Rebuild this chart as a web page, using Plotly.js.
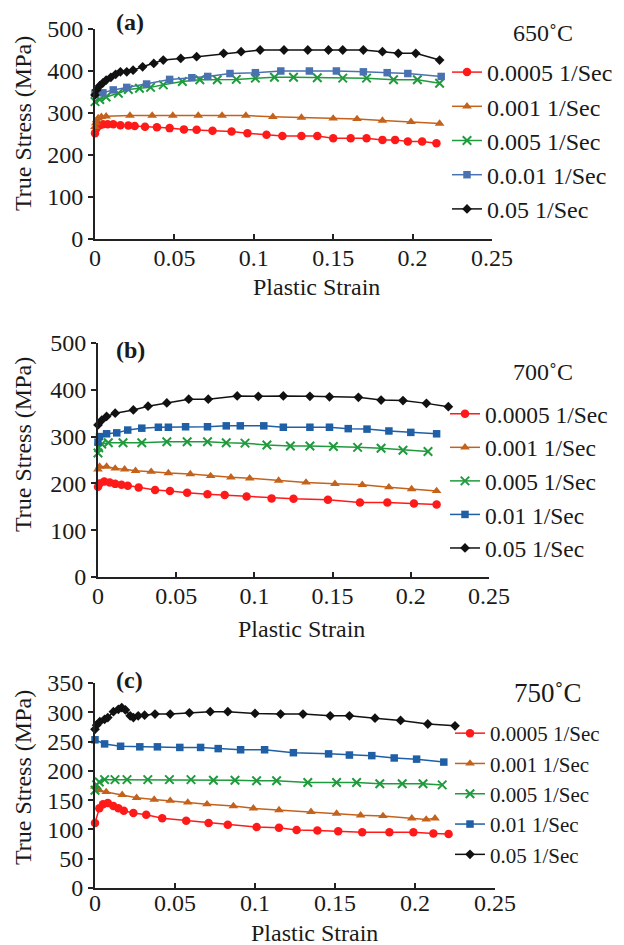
<!DOCTYPE html>
<html><head><meta charset="utf-8">
<script src="https://cdn.plot.ly/plotly-3.0.1.min.js"></script>
<style>body{margin:0;background:#fff}</style>
</head><body><div id="chart" style="width:624px;height:945px"></div>
<script>
// ---------- Panel (a) 650˚C ----------
const a_r00005_x = [0, 0.001, 0.003, 0.005, 0.008, 0.0115, 0.016, 0.021, 0.025, 0.0315, 0.039, 0.047, 0.056, 0.064, 0.074, 0.086, 0.096, 0.108, 0.118, 0.130, 0.140, 0.150, 0.161, 0.171, 0.181, 0.189, 0.197, 0.206, 0.215];
const a_r00005_y = [252, 264, 271, 273, 273, 273, 271, 270, 269, 267, 266, 264, 261, 260, 258, 256, 252, 248, 245, 245, 245, 240, 240, 240, 236, 236, 232, 232, 228];
const a_r0001_x = [0, 0.0005, 0.001, 0.002, 0.004, 0.007, 0.022, 0.036, 0.049, 0.065, 0.080, 0.095, 0.112, 0.130, 0.150, 0.165, 0.181, 0.199, 0.217];
const a_r0001_y = [267, 276, 283, 288, 291, 292, 294, 294, 294, 294, 294, 294, 291, 289, 287, 286, 282, 279, 275];
const a_r0005_x = [0, 0.003, 0.007, 0.0147, 0.021, 0.028, 0.035, 0.043, 0.055, 0.066, 0.077, 0.089, 0.101, 0.113, 0.125, 0.140, 0.156, 0.171, 0.188, 0.203, 0.217];
const a_r0005_y = [327, 332, 338, 347, 356, 359, 361, 367, 375, 379, 379, 380, 383, 385, 385, 384, 383, 383, 379, 379, 371];
const a_r001_x = [0, 0.005, 0.0115, 0.020, 0.0325, 0.047, 0.061, 0.071, 0.085, 0.101, 0.117, 0.135, 0.152, 0.169, 0.184, 0.197, 0.218];
const a_r001_y = [347, 348, 355, 361, 369, 380, 384, 387, 394, 396, 400, 400, 400, 398, 396, 394, 387];
const a_r005_x = [0, 0.001, 0.003, 0.005, 0.007, 0.010, 0.013, 0.016, 0.020, 0.024, 0.030, 0.037, 0.043, 0.054, 0.064, 0.081, 0.092, 0.104, 0.119, 0.134, 0.147, 0.156, 0.169, 0.181, 0.191, 0.202, 0.217];
const a_r005_y = [343, 355, 365, 372, 378, 385, 392, 398, 398, 402, 410, 418, 426, 430, 434, 442, 446, 450, 450, 450, 450, 450, 450, 446, 442, 442, 426];

// ---------- Panel (b) 700˚C ----------
const b_r00005_x = [0, 0.001, 0.004, 0.0075, 0.011, 0.015, 0.019, 0.026, 0.0365, 0.046, 0.057, 0.070, 0.081, 0.095, 0.111, 0.125, 0.147, 0.1675, 0.185, 0.202, 0.2165];
const b_r00005_y = [193, 200, 204, 202, 199, 197, 195, 191, 186, 184, 180, 177, 175, 172, 168, 167, 165, 159, 159, 157, 155];
const b_r0001_x = [0, 0.001, 0.0055, 0.011, 0.017, 0.024, 0.034, 0.045, 0.059, 0.072, 0.085, 0.097, 0.1155, 0.133, 0.1515, 0.169, 0.186, 0.2005, 0.2165];
const b_r0001_y = [230, 236, 236, 232, 230, 227, 225, 222, 220, 216, 213, 211, 206, 202, 199, 197, 192, 188, 184];
const b_r0005_x = [0, 0.0005, 0.0024, 0.0066, 0.016, 0.028, 0.044, 0.057, 0.070, 0.082, 0.094, 0.108, 0.123, 0.1355, 0.1505, 0.166, 0.181, 0.195, 0.211];
const b_r0005_y = [265, 276, 284, 287, 287, 287, 289, 289, 289, 287, 286, 282, 280, 280, 279, 277, 275, 271, 268];
const b_r001_x = [0, 0.001, 0.0055, 0.012, 0.019, 0.028, 0.0386, 0.045, 0.056, 0.070, 0.082, 0.091, 0.106, 0.1185, 0.1355, 0.148, 0.160, 0.172, 0.186, 0.200, 0.2165];
const b_r001_y = [288, 300, 306, 308, 314, 318, 320, 320, 321, 321, 323, 323, 323, 320, 320, 320, 317, 316, 312, 309, 306];
const b_r005_x = [0, 0.0024, 0.0055, 0.011, 0.0226, 0.032, 0.044, 0.058, 0.0705, 0.089, 0.1025, 0.1185, 0.1355, 0.148, 0.1665, 0.181, 0.195, 0.210, 0.224];
const b_r005_y = [325, 335, 343, 350, 357, 365, 372, 380, 380, 387, 386, 387, 386, 385, 384, 378, 377, 371, 364];

// ---------- Panel (c) 750˚C ----------
const c_r00005_x = [0, 0.0027, 0.005, 0.008, 0.0115, 0.0146, 0.018, 0.024, 0.032, 0.042, 0.057, 0.071, 0.083, 0.101, 0.115, 0.126, 0.139, 0.152, 0.167, 0.184, 0.199, 0.2115, 0.221];
const c_r00005_y = [111, 136, 143, 145, 140, 136, 132, 128, 125, 119, 115, 111, 108, 104, 103, 99, 98, 97, 95, 95, 95, 93, 92];
const c_r0001_x = [0, 0.0027, 0.007, 0.017, 0.026, 0.037, 0.047, 0.058, 0.070, 0.0865, 0.099, 0.115, 0.135, 0.151, 0.166, 0.180, 0.198, 0.207, 0.2125];
const c_r0001_y = [173, 167, 164, 159, 154, 151, 149, 146, 143, 140, 136, 133, 130, 127, 124, 123, 119, 117, 119];
const c_r0005_x = [0, 0.001, 0.0027, 0.006, 0.0125, 0.020, 0.033, 0.0465, 0.060, 0.074, 0.0875, 0.101, 0.1135, 0.133, 0.151, 0.1635, 0.178, 0.192, 0.205, 0.217];
const c_r0005_y = [167, 176, 181, 185, 185, 185, 185, 185, 185, 184, 184, 183, 183, 180, 180, 180, 178, 178, 178, 176];
const c_r001_x = [0, 0.006, 0.016, 0.028, 0.039, 0.053, 0.066, 0.077, 0.091, 0.106, 0.124, 0.146, 0.159, 0.173, 0.187, 0.201, 0.218];
const c_r001_y = [253, 246, 242, 241, 241, 240, 240, 238, 236, 236, 231, 229, 227, 226, 222, 220, 215];
const c_r005_x = [0, 0.001, 0.003, 0.006, 0.008, 0.0115, 0.0146, 0.0167, 0.019, 0.022, 0.024, 0.027, 0.031, 0.0375, 0.047, 0.059, 0.072, 0.083, 0.100, 0.116, 0.130, 0.147, 0.159, 0.175, 0.191, 0.208, 0.225];
const c_r005_y = [271, 278, 284, 288, 291, 301, 305, 308, 304, 294, 291, 294, 295, 297, 297, 299, 301, 301, 298, 297, 297, 294, 294, 290, 286, 280, 277];

// ---------- Labels ----------
const rateNamesA = ["0.0005 1/Sec", "0.001 1/Sec", "0.005 1/Sec", "0.0.01 1/Sec", "0.05 1/Sec"];
const rateNamesB = ["0.0005 1/Sec", "0.001 1/Sec", "0.005 1/Sec", "0.01 1/Sec", "0.05 1/Sec"];
const rateNamesC = ["0.0005 1/Sec", "0.001 1/Sec", "0.005 1/Sec", "0.01 1/Sec", "0.05 1/Sec"];
const panelLabels = ["(a)", "(b)", "(c)"];
const tempLabels = ["650˚C", "700˚C", "750˚C"];
const xTitle = "Plastic Strain";
const yTitle = "True Stress (MPa)";

// ---------- Styles ----------
const FONT = "'Liberation Serif'";
const TXT = "#1a1a1a";
const W = 624, H = 945;
const px = v => v / W;
const py = v => 1 - v / H;

const styles = [
  {color: "#ff1a1a", symbol: "circle", size: 8.5},
  {color: "#c4621c", symbol: "triangle-up", size: 8.5},
  {color: "#1f9a3c", symbol: "x-thin-open", size: 8.5},
  {color: "#1f5fa5", symbol: "square", size: 7.5},
  {color: "#111111", symbol: "diamond", size: 7.5}
];

function mk(x, y, name, i, panel, blueOverride) {
  const s = styles[i];
  const col = (i === 3 && blueOverride) ? blueOverride : s.color;
  const ax = panel === 1 ? "" : String(panel);
  const marker = {color: col, symbol: s.symbol, size: s.size};
  if (s.symbol === "x-thin-open") marker.line = {color: col, width: 2};
  return {
    x: x, y: y, name: name, type: "scatter", mode: "lines+markers",
    xaxis: "x" + ax, yaxis: "y" + ax,
    legend: panel === 1 ? "legend" : "legend" + panel,
    line: {color: col, width: 1.5},
    marker: marker, cliponaxis: false
  };
}

const traces = [
  mk(a_r00005_x, a_r00005_y, rateNamesA[0], 0, 1),
  mk(a_r0001_x, a_r0001_y, rateNamesA[1], 1, 1),
  mk(a_r0005_x, a_r0005_y, rateNamesA[2], 2, 1),
  mk(a_r001_x, a_r001_y, rateNamesA[3], 3, 1, "#4a72b0"),
  mk(a_r005_x, a_r005_y, rateNamesA[4], 4, 1),
  mk(b_r00005_x, b_r00005_y, rateNamesB[0], 0, 2),
  mk(b_r0001_x, b_r0001_y, rateNamesB[1], 1, 2),
  mk(b_r0005_x, b_r0005_y, rateNamesB[2], 2, 2),
  mk(b_r001_x, b_r001_y, rateNamesB[3], 3, 2),
  mk(b_r005_x, b_r005_y, rateNamesB[4], 4, 2),
  mk(c_r00005_x, c_r00005_y, rateNamesC[0], 0, 3),
  mk(c_r0001_x, c_r0001_y, rateNamesC[1], 1, 3),
  mk(c_r0005_x, c_r0005_y, rateNamesC[2], 2, 3),
  mk(c_r001_x, c_r001_y, rateNamesC[3], 3, 3),
  mk(c_r005_x, c_r005_y, rateNamesC[4], 4, 3)
];

function xax(d0, d1, anchor, so) {
  return {domain: [px(d0), px(d1)], anchor: anchor, range: [0, 0.25], dtick: 0.05, tick0: 0,
    showline: true, linecolor: "#222", linewidth: 2, ticks: "inside", ticklen: 5, tickwidth: 2, tickcolor: "#222",
    ticklabelposition: "outside", ticklabelstandoff: so,
    showgrid: false, zeroline: false, tickfont: {family: FONT, size: 24, color: TXT}, automargin: false};
}
function yax(top, bot, anchor, maxv, dt) {
  return {domain: [py(bot), py(top)], anchor: anchor, range: [0, maxv], dtick: dt, tick0: 0,
    showline: true, linecolor: "#222", linewidth: 2, ticks: "outside", ticklen: 5, tickwidth: 2, tickcolor: "#222",
    showgrid: false, zeroline: false, tickfont: {family: FONT, size: 24, color: TXT}, automargin: false};
}
function leg(x, yTop, fs) {
  return {x: px(x), y: py(yTop), xanchor: "left", yanchor: "top", bgcolor: "rgba(0,0,0,0)",
    font: {family: FONT, size: fs, color: TXT}, itemclick: false, itemdoubleclick: false};
}
function ann(text, x, y, size, opts) {
  return Object.assign({text: text, x: px(x), y: py(y), xref: "paper", yref: "paper", showarrow: false,
    xanchor: "center", yanchor: "middle", font: {family: FONT, size: size, color: TXT}}, opts || {});
}

const layout = {
  width: W, height: H, margin: {l: 0, r: 0, t: 0, b: 0},
  paper_bgcolor: "#fff", plot_bgcolor: "#fff", showlegend: true,
  xaxis: xax(95, 492, "y", -4), yaxis: yax(29, 239, "x", 500, 100),
  xaxis2: xax(98, 489, "y2", -4), yaxis2: yax(343, 577, "x2", 500, 100),
  xaxis3: xax(95, 495, "y3", -8), yaxis3: yax(683, 888, "x3", 350, 50),
  legend: leg(447, 50, 24),
  legend2: leg(445, 392, 23.5),
  legend3: leg(450, 713, 21),
  annotations: [
    ann(panelLabels[0], 130, 22, 24, {font: {family: FONT, size: 24, color: TXT, weight: "bold"}}),
    ann(panelLabels[1], 130, 350, 24, {font: {family: FONT, size: 24, color: TXT, weight: "bold"}}),
    ann(panelLabels[2], 129, 680, 24, {font: {family: FONT, size: 24, color: TXT, weight: "bold"}}),
    ann(tempLabels[0], 543, 33, 24),
    ann(tempLabels[1], 543, 372, 24),
    ann(tempLabels[2], 548, 693, 27),
    ann(xTitle, 316, 287, 24),
    ann(xTitle, 301, 629, 24),
    ann(xTitle, 314, 933, 24),
    ann(yTitle, 23, 124, 24, {textangle: -90}),
    ann(yTitle, 23, 445, 24, {textangle: -90}),
    ann(yTitle, 23, 778, 24, {textangle: -90})
  ]
};

Plotly.newPlot("chart", traces, layout, {displayModeBar: false, staticPlot: true});
</script></body></html>
